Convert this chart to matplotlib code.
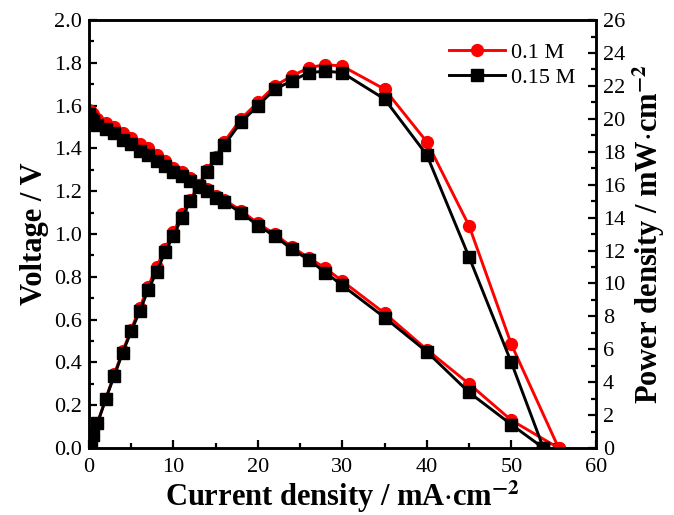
import matplotlib
matplotlib.use('Agg')
import matplotlib.pyplot as plt
from matplotlib.ticker import MultipleLocator, FormatStrFormatter

plt.rcParams['font.family'] = ['Liberation Serif', 'DejaVu Serif']
plt.rcParams['mathtext.fontset'] = 'stix'

# current density, mA/cm2
i_01 = [0, 0.25, 0.5, 1, 2, 3, 4, 5, 6, 7, 8, 9, 10, 11, 12, 13, 14, 15, 16,
        18, 20, 22, 24, 26, 28, 30, 35, 40, 45, 50, 55.6]
i_015 = [0, 0.25, 0.5, 1, 2, 3, 4, 5, 6, 7, 8, 9, 10, 11, 12, 13, 14, 15, 16,
         18, 20, 22, 24, 26, 28, 30, 35, 40, 45, 50, 53.8]

# voltage, V
v_01 = [1.58, 1.57, 1.56, 1.54, 1.52, 1.50, 1.47, 1.45, 1.42, 1.40, 1.37, 1.34,
        1.31, 1.29, 1.26, 1.23, 1.21, 1.18, 1.16, 1.11, 1.05, 1.00, 0.94, 0.89,
        0.84, 0.78, 0.63, 0.46, 0.30, 0.13, 0.0]
v_015 = [1.56, 1.54, 1.53, 1.51, 1.49, 1.47, 1.44, 1.42, 1.39, 1.37, 1.34, 1.32,
         1.29, 1.27, 1.25, 1.22, 1.20, 1.17, 1.15, 1.10, 1.04, 0.99, 0.93, 0.88,
         0.82, 0.76, 0.61, 0.45, 0.26, 0.11, 0.0]

# power density, mW/cm2
p_01 = [0, 0.4, 0.8, 1.5, 3.0, 4.5, 5.9, 7.2, 8.5, 9.8, 11.0, 12.1, 13.1, 14.2,
        15.1, 16.0, 16.9, 17.7, 18.6, 20.0, 21.0, 22.0, 22.6, 23.1, 23.3, 23.2,
        21.8, 18.6, 13.5, 6.3, 0.0]
p_015 = [0, 0.4, 0.8, 1.5, 3.0, 4.4, 5.8, 7.1, 8.3, 9.6, 10.7, 11.9, 12.9, 14.0,
         15.0, 15.9, 16.8, 17.6, 18.4, 19.8, 20.8, 21.8, 22.3, 22.8, 22.9, 22.8,
         21.2, 17.8, 11.6, 5.2, 0.0]

fig = plt.figure(figsize=(6.74, 5.15), dpi=100)
ax = fig.add_axes([0.132, 0.130, 0.752, 0.831])
ax2 = ax.twinx()

ax.plot(i_01, v_01, color='red', marker='o', ms=8.5, lw=2.1, zorder=2)
ax.plot(i_015, v_015, color='black', marker='s', ms=8, lw=2.1, zorder=3)
ax2.plot(i_01, p_01, color='red', marker='o', ms=8.5, lw=2.1, label='0.1 M', zorder=2)
ax2.plot(i_015, p_015, color='black', marker='s', ms=8, lw=2.1, label='0.15 M', zorder=3)

ax.set_xlim(0, 60)
ax.set_ylim(0, 2.0)
ax2.set_ylim(0, 26)

ax.xaxis.set_major_locator(MultipleLocator(10))
ax.xaxis.set_minor_locator(MultipleLocator(5))
ax.yaxis.set_major_locator(MultipleLocator(0.2))
ax.yaxis.set_minor_locator(MultipleLocator(0.1))
ax2.yaxis.set_major_locator(MultipleLocator(2))
ax2.yaxis.set_minor_locator(MultipleLocator(1))
ax.yaxis.set_major_formatter(FormatStrFormatter('%.1f'))

for a in (ax, ax2):
    a.tick_params(which='major', direction='in', length=6, width=1.6,
                  labelsize=16, pad=5)
    a.tick_params(which='minor', direction='in', length=3.5, width=1.6)
    for s in a.spines.values():
        s.set_linewidth(1.8)
ax.tick_params(axis='x', which='major', pad=7)
ax.tick_params(axis='y', which='both', right=False)
ax.tick_params(axis='x', which='both', top=False)

ax.set_xlabel('Current density / mA$\\cdot$cm$^{\\mathbf{-2}}$', fontsize=22,
              fontweight='bold', labelpad=1)
ax.set_ylabel('Voltage / V', fontsize=22, fontweight='bold', labelpad=4)
ax2.set_ylabel('Power density / mW$\\cdot$cm$^{\\mathbf{-2}}$', fontsize=22,
               fontweight='bold', labelpad=4)

ax2.legend(loc='upper right', bbox_to_anchor=(1.0, 0.995), frameon=False,
           fontsize=16, handlelength=2.5, handletextpad=0.3, labelspacing=0.2)

fig.savefig('out.png', dpi=100)
